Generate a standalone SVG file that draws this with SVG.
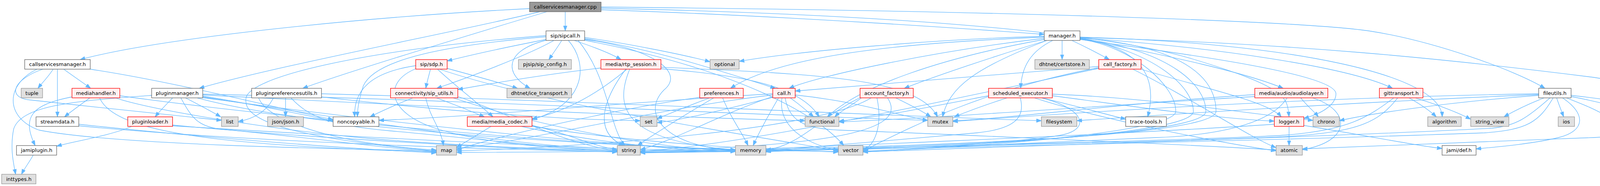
<svg xmlns="http://www.w3.org/2000/svg" width="4452" height="476" viewBox="0 0 4452 476">
<style>
.e{fill:none;stroke:#63b8ff;stroke-width:1.3;marker-end:url(#ah)}
rect{stroke-width:1.33}
.w{fill:#fff;stroke:#666}
.g{fill:#e0e0e0;stroke:#999}
.r{fill:#fff0f0;stroke:#f00}
.k{fill:#999;stroke:#666}
text{font-family:"DejaVu Sans","Liberation Sans",sans-serif;font-size:13px;text-anchor:middle;fill:#000}
</style>
<defs>
<marker id="ah" markerUnits="userSpaceOnUse" markerWidth="14" markerHeight="10" refX="13" refY="4.7" orient="auto"><path d="M0,0 L13,4.7 L0,9.4 z" fill="#63b8ff" stroke="#63b8ff" stroke-width="1"/></marker>
</defs>
<rect x="0" y="0" width="4452" height="476" fill="#fff"/>
<g id="edges">
<path class="e" d="M1355.7,22 C900,45 400,100 205,152.5"/>
<path class="e" d="M1382,30 C1200,75 700,170 510,226"/>
<path class="e" d="M1400,30 C1250,75 900,180 775,226"/>
<path class="e" d="M1447,30 L1447,79"/>
<path class="e" d="M1538.7,25 C2000,40 2500,75 2673.3,88"/>
<path class="e" d="M1538.7,18 C2600,28 3350,55 3510,80 S3880,180 3955,226"/>
<path class="e" d="M1538.7,21 C2200,35 2800,75 3050,150 S3295,250 3300,299"/>
<path class="e" d="M136,177 C125,195 108,212 97,226"/>
<path class="e" d="M147,177 L147,299"/>
<path class="e" d="M163,177 C185,193 210,210 232,226"/>
<path class="e" d="M231,177 C450,210 700,275 852.7,306"/>
<path class="e" d="M110,177 C40,200 15,245 70,255 C250,275 450,295 567,308"/>
<path class="e" d="M95,177 C15,215 10,300 100,333 C300,372 900,382 1117.3,386"/>
<path class="e" d="M230,250.5 C210,265 185,283 165,299"/>
<path class="e" d="M184.3,248 C80,268 55,300 90,372.5"/>
<path class="e" d="M255,250.5 C290,330 500,372 1117.3,389"/>
<path class="e" d="M295,250.5 C400,285 700,330 900,350 S1400,382 1580.3,386"/>
<path class="e" d="M306.7,245 C700,300 1500,375 1882.7,383"/>
<path class="e" d="M201.7,318 C500,350 900,382 1117.3,391"/>
<path class="e" d="M201.7,322 C600,360 1200,382 1580.3,388"/>
<path class="e" d="M337,323.5 C290,345 190,362 145,374"/>
<path class="e" d="M441.7,320 C700,345 1200,378 1580.3,389"/>
<path class="e" d="M441.7,322 C900,350 1500,382 1882.7,387"/>
<path class="e" d="M85,397 C75,415 62,432 55,446"/>
<path class="e" d="M442,250.5 C428,265 410,283 397,299"/>
<path class="e" d="M475,250.5 C505,266 540,284 565,299"/>
<path class="e" d="M388.3,244 C200,258 55,268 35,330 C25,380 35,420 40,446"/>
<path class="e" d="M519,246 C650,266 780,295 852.7,309"/>
<path class="e" d="M463,250.5 C490,300 505,322 560,330 C800,352 1000,382 1117.3,388"/>
<path class="e" d="M519,248 C800,292 1300,372 1580.3,384"/>
<path class="e" d="M519,243 C1000,268 1700,300 2061,309"/>
<path class="e" d="M519,241 C1200,255 2000,298 2375,308"/>
<path class="e" d="M519,250 C900,302 1500,372 1882.7,385"/>
<path class="e" d="M505,250.5 C800,332 1600,382 2146.3,388"/>
<path class="e" d="M731,250.5 L731,299"/>
<path class="e" d="M700,250.5 C680,290 645,305 609.7,311"/>
<path class="e" d="M662,250.5 C690,320 900,372 1117.3,384"/>
<path class="e" d="M745,250.5 C790,300 850,322 1000,335 C1150,348 1450,382 1580.3,387"/>
<path class="e" d="M823,248 C1100,280 1400,305 1639,309"/>
<path class="e" d="M823,240 C1500,258 2300,298 2666,309"/>
<path class="e" d="M1397.7,101 C1300,120 1200,142 1144.7,156"/>
<path class="e" d="M1418,103.5 C1350,142 1200,198 1118,226"/>
<path class="e" d="M1438,103.5 C1428,120 1415,138 1405,152.5"/>
<path class="e" d="M1398,103 C1290,130 1290,190 1357,226"/>
<path class="e" d="M1455,103.5 C1505,160 1505,265 1362,306"/>
<path class="e" d="M1470,103.5 C1520,120 1560,135 1590,152.5"/>
<path class="e" d="M1496.7,96 C1600,110 1750,140 1817.7,158"/>
<path class="e" d="M1496.7,99 C1700,130 1900,200 1985,226"/>
<path class="e" d="M1397.7,94 C1150,115 960,150 930,220 C920,250 915,275 915,299"/>
<path class="e" d="M1397.7,91 C900,130 640,200 630,250 C620,300 700,348 1117.3,387"/>
<path class="e" d="M1496.7,101 C1650,120 1760,180 1700,230 C1640,290 1700,375 1882.7,385"/>
<path class="e" d="M1480,103.5 C1560,200 1560,330 1600,372.5"/>
<path class="e" d="M1496.7,103 C1900,180 2100,300 2160,372.5"/>
<path class="e" d="M1102,177 C1098,193 1093,210 1090,226"/>
<path class="e" d="M1064.3,168 C950,185 905,230 908,299"/>
<path class="e" d="M1144.7,175 C1200,190 1280,212 1325,226"/>
<path class="e" d="M1120,177 C1160,215 1225,265 1262,299"/>
<path class="e" d="M1064.3,176 C980,210 990,290 1120,330 C1250,370 1450,382 1580.3,386"/>
<path class="e" d="M1125,177 C1400,270 1900,342 2146.3,386"/>
<path class="e" d="M1057,250.5 C1020,265 980,283 947,299"/>
<path class="e" d="M1117,250.5 C1160,266 1205,284 1240,299"/>
<path class="e" d="M1090,250.5 C1100,300 1130,330 1135,372.5"/>
<path class="e" d="M1172,247 C1300,290 1450,372 1580.3,385"/>
<path class="e" d="M1160,250.5 C1400,330 1700,382 1882.7,386"/>
<path class="e" d="M1257,323.5 C1222,345 1190,365 1168.7,377"/>
<path class="e" d="M1362,321 C1450,340 1520,375 1580.3,383"/>
<path class="e" d="M1335,323.5 C1500,360 1700,384 1882.7,388"/>
<path class="e" d="M1362,323 C1600,362 1900,382 2146.3,389"/>
<path class="e" d="M1538.3,174 C1400,190 1250,215 1172,229"/>
<path class="e" d="M1605,177 C1530,240 1450,285 1362,304"/>
<path class="e" d="M1602,177 C1540,260 1520,340 1597,372.5"/>
<path class="e" d="M1612,177 C1570,280 1600,360 1882.7,384"/>
<path class="e" d="M1692,172 C2100,190 2350,200 2400,299"/>
<path class="e" d="M1692,176 C1900,192 2050,220 2097,299"/>
<path class="e" d="M1817,250.5 C1770,268 1720,288 1682,304"/>
<path class="e" d="M1827,250.5 C1760,290 1680,340 1632,372.5"/>
<path class="e" d="M1791.3,249 C1600,275 1300,342 1168.7,383"/>
<path class="e" d="M1850,250.5 C1870,300 1900,340 1915,372.5"/>
<path class="e" d="M2023,250.5 C2045,266 2065,283 2083,299"/>
<path class="e" d="M1993,250.5 C1970,290 1945,335 1928,372.5"/>
<path class="e" d="M2002,250.5 C1990,320 2060,370 2146.3,384"/>
<path class="e" d="M1978.3,243 C1700,275 1400,352 1168.7,381"/>
<path class="e" d="M1978.3,247 C1850,290 1720,362 1639.3,383"/>
<path class="e" d="M2035.7,243 C2200,260 2300,296 2375,308"/>
<path class="e" d="M2010,250.5 C2020,310 2060,330 2150,333 C2240,336 3100,372 3266.7,384"/>
<path class="e" d="M1978.3,249 C1850,282 1750,306 1682,314"/>
<path class="e" d="M1978.3,240 C1600,262 1200,300 970,308"/>
<path class="e" d="M2293,250.5 C2325,266 2360,284 2383,299"/>
<path class="e" d="M2205,250.5 C2180,270 2150,286 2137,299"/>
<path class="e" d="M2201.7,250 C2100,300 2050,372 1960.7,384"/>
<path class="e" d="M2245,250.5 C2260,322 2240,372 2209.3,384"/>
<path class="e" d="M2272,250.5 C2320,322 2200,372 1639.3,386"/>
<path class="e" d="M2230,250.5 C2100,332 1500,377 1168.7,386"/>
<path class="e" d="M2578,250.5 C2530,266 2480,284 2443,299"/>
<path class="e" d="M2530.7,245 C2400,270 2250,300 2147.7,310"/>
<path class="e" d="M2667,250.5 C2750,270 2830,292 2881.7,305"/>
<path class="e" d="M2648,250.5 C2800,300 3100,362 3266.7,386"/>
<path class="e" d="M2612,250.5 C2625,300 2600,330 2500,340 C2400,350 2000,382 1960.7,386"/>
<path class="e" d="M2667,250.5 C2780,280 2790,330 2720,345 C2650,360 2300,385 2209.3,388"/>
<path class="e" d="M2694,241 C2950,250 3200,292 3361.3,308"/>
<path class="e" d="M2694,245 C2900,272 3100,302 3262.3,310"/>
<path class="e" d="M2719,103.5 L2719,152.5"/>
<path class="e" d="M2744,103.5 C2775,118 2810,136 2840,152.5"/>
<path class="e" d="M2695,103.5 C2640,130 2615,170 2613,226"/>
<path class="e" d="M2680,103.5 C2550,142 2380,200 2315,226"/>
<path class="e" d="M2673.3,98 C2400,130 2100,192 2020,226"/>
<path class="e" d="M2673.3,95 C2300,110 2000,142 1870,226"/>
<path class="e" d="M2673.3,93 C2400,100 2050,130 1892.3,157"/>
<path class="e" d="M2764.7,100 C3000,142 3200,190 3285,226"/>
<path class="e" d="M2764.7,97 C3100,120 3450,170 3565,226"/>
<path class="e" d="M2764.7,95 C3300,110 3690,190 3692,299"/>
<path class="e" d="M2764.7,98 C2900,120 2970,180 2938,299"/>
<path class="e" d="M2764.7,96 C3300,110 3700,150 4080,198 C4280,228 4440,292 4440,310 C4440,328 4200,345 4080,352 C3800,362 3500,375 3334,381"/>
<path class="e" d="M2673.3,101 C2400,150 2200,222 2118,299"/>
<path class="e" d="M2680,103.5 C2500,172 2430,222 2413,299"/>
<path class="e" d="M2764.7,100 C2900,120 3010,220 3010,285 C3010,332 2600,372 2209.3,387"/>
<path class="e" d="M2764.7,99 C2950,130 3055,220 3055,285 C3055,342 2500,377 1960.7,387"/>
<path class="e" d="M2764.7,98 C3000,130 3087,220 3087,285 C3087,347 2400,382 1639.3,389"/>
<path class="e" d="M2764.7,97 C3050,120 3113,210 3113,285 C3113,352 2300,387 1168.7,390"/>
<path class="e" d="M2764.7,101 C3050,140 3420,190 3420,240 C3420,270 3380,292 3337.7,303"/>
<path class="e" d="M2812.7,170 C2500,195 2200,220 2035.7,233"/>
<path class="e" d="M2812.7,173 C2500,232 2300,342 2209.3,386"/>
<path class="e" d="M2812.7,175 C2400,262 1900,372 1639.3,387"/>
<path class="e" d="M2900,177 C3050,252 3200,352 3266.7,378"/>
<path class="e" d="M2920,177 C3100,230 3250,262 3280,299"/>
<path class="e" d="M3330,250.5 C3345,270 3365,286 3375,299"/>
<path class="e" d="M3360,250.5 C3460,282 3460,362 3334,383"/>
<path class="e" d="M3295,250.5 C3250,322 3100,347 2960,352 C2820,357 2300,382 2209.3,388"/>
<path class="e" d="M3212.3,242 C2900,262 2600,302 2439.3,309"/>
<path class="e" d="M3212.3,247 C2800,272 2400,302 2147.7,312"/>
<path class="e" d="M3300,323.5 L3300,372.5"/>
<path class="e" d="M3337.7,321 C3500,347 3620,372 3691.7,380"/>
<path class="e" d="M3262.3,318 C2900,342 2000,382 1639.3,390"/>
<path class="e" d="M3607,250.5 C3635,266 3660,283 3677,299"/>
<path class="e" d="M3568,250.5 C3500,302 3450,332 3300,345 C3150,358 2000,382 1960.7,389"/>
<path class="e" d="M3578,250.5 C3530,312 3480,337 3300,349 C3120,361 1900,386 1639.3,391"/>
<path class="e" d="M3623,250.5 C3680,268 3730,287 3765,305"/>
<path class="e" d="M3953,250.5 C3915,265 3880,282 3850,299"/>
<path class="e" d="M3985,250.5 C3990,266 3997,283 4003,299"/>
<path class="e" d="M4010,250.5 C4050,266 4090,282 4115,299"/>
<path class="e" d="M4022,247 C4100,262 4190,285 4230,299"/>
<path class="e" d="M4022,244 C4150,258 4300,285 4366.7,302"/>
<path class="e" d="M4000,250.5 C4060,290 4060,335 3990,352 C3920,369 3820,377 3778.7,381"/>
<path class="e" d="M3968,250.5 C3910,302 3880,322 3820,328 C3500,347 2500,377 2209.3,389"/>
<path class="e" d="M3976,250.5 C3940,312 3910,332 3800,340 C3200,362 2000,388 1639.3,391"/>
<path class="e" d="M3939,244 C3700,262 3500,292 3428.7,309"/>
<path class="e" d="M3939,242 C3500,260 3000,292 2756.7,309"/>
<path class="e" d="M3939,240 C3300,250 2700,292 2439.3,311"/>
</g>
<g id="n_root"><rect class="k" x="1355.7" y="5.5" width="183" height="24.5"/><text x="1447.2" y="22">callservicesmanager.cpp</text></g>
<g id="n_callservicesmanager_h"><rect class="w" x="63.3" y="152.5" width="167.7" height="24.5"/><text x="147.2" y="169">callservicesmanager.h</text></g>
<g id="n_sipcall_h"><rect class="w" x="1397.7" y="79" width="99" height="24.5"/><text x="1447.2" y="95.5">sip/sipcall.h</text></g>
<g id="n_manager_h"><rect class="w" x="2673.3" y="79" width="91.4" height="24.5"/><text x="2719" y="95.5">manager.h</text></g>
<g id="n_pluginmanager_h"><rect class="w" x="388.3" y="226" width="130.7" height="24.5"/><text x="453.7" y="242.5">pluginmanager.h</text></g>
<g id="n_pluginpreferencesutils_h"><rect class="w" x="644.3" y="226" width="178.7" height="24.5"/><text x="733.7" y="242.5">pluginpreferencesutils.h</text></g>
<g id="n_fileutils_h"><rect class="w" x="3939" y="226" width="83" height="24.5"/><text x="3980.5" y="242.5">fileutils.h</text></g>
<g id="n_tuple"><rect class="g" x="54.3" y="226" width="54.7" height="24.5"/><text x="81.7" y="242.5">tuple</text></g>
<g id="n_mediahandler_h"><rect class="r" x="184.3" y="226" width="122.4" height="24.5"/><text x="245.5" y="242.5">mediahandler.h</text></g>
<g id="n_streamdata_h"><rect class="w" x="92.3" y="299" width="109.4" height="24.5"/><text x="147" y="315.5">streamdata.h</text></g>
<g id="n_pluginloader_h"><rect class="r" x="327" y="299" width="114.7" height="24.5"/><text x="384.3" y="315.5">pluginloader.h</text></g>
<g id="n_jamiplugin_h"><rect class="w" x="42.3" y="372.5" width="102.7" height="24.5"/><text x="93.7" y="389">jamiplugin.h</text></g>
<g id="n_inttypes_h"><rect class="g" x="4.3" y="446" width="87.7" height="24.5"/><text x="48.2" y="462.5">inttypes.h</text></g>
<g id="n_list"><rect class="g" x="567" y="299" width="42.7" height="24.5"/><text x="588.3" y="315.5">list</text></g>
<g id="n_json_json_h"><rect class="g" x="685" y="299" width="92" height="24.5"/><text x="731" y="315.5">json/json.h</text></g>
<g id="n_noncopyable_h"><rect class="w" x="852.7" y="299" width="117.3" height="24.5"/><text x="911.3" y="315.5">noncopyable.h</text></g>
<g id="n_sdp_h"><rect class="r" x="1064.3" y="152.5" width="80.4" height="24.5"/><text x="1104.5" y="169">sip/sdp.h</text></g>
<g id="n_sip_utils_h"><rect class="r" x="999.7" y="226" width="172.3" height="24.5"/><text x="1085.8" y="242.5">connectivity/sip_utils.h</text></g>
<g id="n_sip_config_h"><rect class="g" x="1327.3" y="152.5" width="135.4" height="24.5"/><text x="1395" y="169">pjsip/sip_config.h</text></g>
<g id="n_ice_transport_h"><rect class="g" x="1297.7" y="226" width="165.6" height="24.5"/><text x="1380.5" y="242.5">dhtnet/ice_transport.h</text></g>
<g id="n_media_codec_h"><rect class="r" x="1196.3" y="299" width="165.7" height="24.5"/><text x="1279.2" y="315.5">media/media_codec.h</text></g>
<g id="n_map"><rect class="g" x="1117.3" y="372.5" width="51.4" height="24.5"/><text x="1143" y="389">map</text></g>
<g id="n_rtp_session_h"><rect class="r" x="1538.3" y="152.5" width="153.7" height="24.5"/><text x="1615.2" y="169">media/rtp_session.h</text></g>
<g id="n_optional"><rect class="g" x="1817.7" y="152.5" width="74.6" height="24.5"/><text x="1855" y="169">optional</text></g>
<g id="n_preferences_h"><rect class="r" x="1791.3" y="226" width="111.4" height="24.5"/><text x="1847" y="242.5">preferences.h</text></g>
<g id="n_set"><rect class="g" x="1639" y="299" width="43" height="24.5"/><text x="1660.5" y="315.5">set</text></g>
<g id="n_string"><rect class="g" x="1580.3" y="372.5" width="59" height="24.5"/><text x="1609.8" y="389">string</text></g>
<g id="n_call_h"><rect class="r" x="1978.3" y="226" width="57.4" height="24.5"/><text x="2007" y="242.5">call.h</text></g>
<g id="n_functional"><rect class="g" x="2061" y="299" width="86.7" height="24.5"/><text x="2104.3" y="315.5">functional</text></g>
<g id="n_memory"><rect class="g" x="1882.7" y="372.5" width="78" height="24.5"/><text x="1921.7" y="389">memory</text></g>
<g id="n_vector"><rect class="g" x="2146.3" y="372.5" width="63" height="24.5"/><text x="2177.8" y="389">vector</text></g>
<g id="n_account_factory_h"><rect class="r" x="2201.7" y="226" width="136.3" height="24.5"/><text x="2269.8" y="242.5">account_factory.h</text></g>
<g id="n_mutex"><rect class="g" x="2375" y="299" width="64.3" height="24.5"/><text x="2407.2" y="315.5">mutex</text></g>
<g id="n_scheduled_executor_h"><rect class="r" x="2530.7" y="226" width="163.3" height="24.5"/><text x="2612.3" y="242.5">scheduled_executor.h</text></g>
<g id="n_certstore_h"><rect class="g" x="2649.3" y="152.5" width="139.4" height="24.5"/><text x="2719" y="169">dhtnet/certstore.h</text></g>
<g id="n_call_factory_h"><rect class="r" x="2812.7" y="152.5" width="108.6" height="24.5"/><text x="2867" y="169">call_factory.h</text></g>
<g id="n_filesystem"><rect class="g" x="2666" y="299" width="90.7" height="24.5"/><text x="2711.3" y="315.5">filesystem</text></g>
<g id="n_trace_tools_h"><rect class="w" x="2881.7" y="299" width="104.3" height="24.5"/><text x="2933.8" y="315.5">trace-tools.h</text></g>
<g id="n_audiolayer_h"><rect class="r" x="3212.3" y="226" width="187" height="24.5"/><text x="3305.8" y="242.5">media/audio/audiolayer.h</text></g>
<g id="n_logger_h"><rect class="r" x="3262.3" y="299" width="75.4" height="24.5"/><text x="3300" y="315.5">logger.h</text></g>
<g id="n_atomic"><rect class="g" x="3266.7" y="372.5" width="67.3" height="24.5"/><text x="3300.3" y="389">atomic</text></g>
<g id="n_gittransport_h"><rect class="r" x="3531.3" y="226" width="111.4" height="24.5"/><text x="3587" y="242.5">gittransport.h</text></g>
<g id="n_chrono"><rect class="g" x="3361.3" y="299" width="67.4" height="24.5"/><text x="3395" y="315.5">chrono</text></g>
<g id="n_algorithm"><rect class="g" x="3655" y="299" width="85.7" height="24.5"/><text x="3697.8" y="315.5">algorithm</text></g>
<g id="n_jami_def_h"><rect class="w" x="3691.7" y="372.5" width="87" height="24.5"/><text x="3735.2" y="389">jami/def.h</text></g>
<g id="n_string_view"><rect class="g" x="3765" y="299" width="97.7" height="24.5"/><text x="3813.8" y="315.5">string_view</text></g>
<g id="n_ios"><rect class="g" x="3989" y="299" width="41.7" height="24.5"/><text x="4009.8" y="315.5">ios</text></g>
<g id="n_sys_stat_h"><rect class="g" x="4105.7" y="299" width="85.6" height="24.5"/><text x="4148.5" y="315.5">sys/stat.h</text></g>
<g id="n_dhtnet_fileutils_h"><rect class="g" x="4215" y="299" width="128.3" height="24.5"/><text x="4279.2" y="315.5">dhtnet/fileutils.h</text></g>
<g id="n_cstdio"><rect class="g" x="4366.7" y="299" width="62.3" height="24.5"/><text x="4397.8" y="315.5">cstdio</text></g>
</svg>
